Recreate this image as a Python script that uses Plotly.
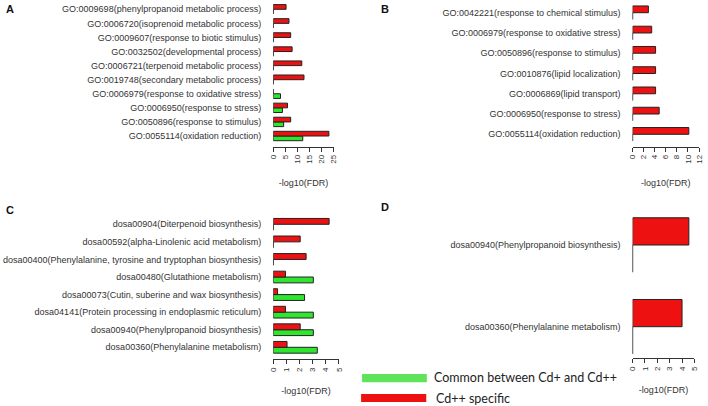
import plotly.graph_objects as go

W, H = 708, 406

# ---------------- data ----------------
a_terms = [
    "GO:0009698(phenylpropanoid metabolic process)",
    "GO:0006720(isoprenoid metabolic process)",
    "GO:0009607(response to biotic stimulus)",
    "GO:0032502(developmental process)",
    "GO:0006721(terpenoid metabolic process)",
    "GO:0019748(secondary metabolic process)",
    "GO:0006979(response to oxidative stress)",
    "GO:0006950(response to stress)",
    "GO:0050896(response to stimulus)",
    "GO:0055114(oxidation reduction)",
]
a_specific = [5.3, 6.5, 7.2, 7.8, 11.8, 12.7, 0, 5.9, 7.2, 23.0]
a_common = [0, 0, 0, 0, 0, 0, 3.0, 3.8, 4.3, 12.2]

b_terms = [
    "GO:0042221(response to chemical stimulus)",
    "GO:0006979(response to oxidative stress)",
    "GO:0050896(response to stimulus)",
    "GO:0010876(lipid localization)",
    "GO:0006869(lipid transport)",
    "GO:0006950(response to stress)",
    "GO:0055114(oxidation reduction)",
]
b_specific = [2.85, 3.45, 4.15, 4.15, 4.15, 4.8, 10.15]
b_common = [0, 0, 0, 0, 0, 0, 0]

c_terms = [
    "dosa00904(Diterpenoid biosynthesis)",
    "dosa00592(alpha-Linolenic acid metabolism)",
    "dosa00400(Phenylalanine, tyrosine and tryptophan biosynthesis)",
    "dosa00480(Glutathione metabolism)",
    "dosa00073(Cutin, suberine and wax biosynthesis)",
    "dosa04141(Protein processing in endoplasmic reticulum)",
    "dosa00940(Phenylpropanoid biosynthesis)",
    "dosa00360(Phenylalanine metabolism)",
]
c_specific = [4.25, 2.05, 2.5, 0.93, 0.33, 0.93, 2.05, 1.05]
c_common = [0, 0, 0, 3.05, 2.38, 3.05, 3.05, 3.35]

d_terms = [
    "dosa00940(Phenylpropanoid biosynthesis)",
    "dosa00360(Phenylalanine metabolism)",
]
d_specific = [4.55, 4.0]
d_common = [0, 0]

x_title = "-log10(FDR)"
legend_common = "Common between Cd+ and Cd++"
legend_specific = "Cd++ specific"

RED = "#EE1111"
GREEN = "#2EE62E"
LEG_GREEN = "#5EE35A"
OUTLINE = "#222222"

# ---------------- layout geometry (pixels) ----------------
# name, terms, specific, common, x0px, x1px, xmax, dtick, first-center px, last-center px, axis px
panels = [
    ("A", a_terms, a_specific, a_common, 272.7, 334.0, 25, 5, 9.3, 136.0, 146.7),
    ("B", b_terms, b_specific, b_common, 636.7, 704.0, 12, 2, 12.7, 134.3, 146.7),
    ("C", c_terms, c_specific, c_common, 272.7, 339.3, 5, 1, 224.3, 347.3, 359.3),
    ("D", d_terms, d_specific, d_common, 636.7, 699.3, 5, 1, 245.0, 326.7, 358.3),
]

fig = go.Figure()
layout = {}
TOP_EXT = 0.6

for i, (name, terms, spec, comm, x0, x1, xmax, dt, c_first, c_last, ax_px) in enumerate(panels):
    idx = "" if i == 0 else str(i + 1)
    xa, ya = "x" + idx, "y" + idx
    n = len(terms)
    spacing = (c_last - c_first) / (n - 1) if n > 1 else 80
    bottom_ext = (ax_px - c_last) / spacing
    top_px = c_first - TOP_EXT * spacing
    terms_r = terms[::-1]
    fig.add_trace(go.Bar(
        y=terms_r, x=comm[::-1], orientation="h", xaxis=xa, yaxis=ya,
        marker=dict(color=GREEN, line=dict(color=OUTLINE, width=1)),
        showlegend=False, hoverinfo="x+y"))
    fig.add_trace(go.Bar(
        y=terms_r, x=spec[::-1], orientation="h", xaxis=xa, yaxis=ya,
        marker=dict(color=RED, line=dict(color=OUTLINE, width=1)),
        showlegend=False, hoverinfo="x+y"))

    layout["xaxis" + idx] = dict(
        domain=[x0 / W, x1 / W], range=[0, xmax], dtick=dt, tick0=0,
        anchor=ya, showline=True, linecolor="#333", linewidth=1,
        ticks="outside", ticklen=4, tickcolor="#333", tickwidth=1,
        tickangle=-90, tickfont=dict(size=8, color="#333", family="Liberation Sans, Arial"),
        showgrid=False, zeroline=False,
        title=dict(text=x_title, standoff=16,
                   font=dict(size=9, color="#333", family="Liberation Sans, Arial")),
    )
    layout["yaxis" + idx] = dict(
        domain=[1 - ax_px / H, 1 - top_px / H],
        range=[-bottom_ext, (n - 1) + TOP_EXT],
        anchor=xa, showline=False, showgrid=False, zeroline=False,
        ticks="", ticklabelstandoff=11, type="category",
        tickfont=dict(size=9, color="#333", family="Liberation Sans, Arial"),
    )

annotations = []
letters = [("A", 0, 9), ("B", 380, 9), ("C", 0, 210), ("D", 380, 207)]
for t, px, py in letters:
    annotations.append(dict(
        text="<b>%s</b>" % t, x=px / W, y=1 - py / H, xref="paper", yref="paper",
        xanchor="left", yanchor="middle", showarrow=False,
        font=dict(size=11, color="#111", family="Liberation Sans, Arial")))

annotations.append(dict(text=legend_common, x=434 / W, y=1 - 377.7 / H, xref="paper", yref="paper",
                        xanchor="left", yanchor="middle", showarrow=False,
                        font=dict(size=12.5, color="#222", family="Lato")))
annotations.append(dict(text=legend_specific, x=436 / W, y=1 - 398 / H, xref="paper", yref="paper",
                        xanchor="left", yanchor="middle", showarrow=False,
                        font=dict(size=12.5, color="#222", family="Lato")))

shapes = [
    dict(type="rect", xref="paper", yref="paper", x0=362.7 / W, x1=428.3 / W,
         y0=1 - 382.3 / H, y1=1 - 374 / H, fillcolor=LEG_GREEN, line=dict(width=0)),
    dict(type="rect", xref="paper", yref="paper", x0=361.7 / W, x1=427.7 / W,
         y0=1 - 402 / H, y1=1 - 394 / H, fillcolor=RED, line=dict(width=0)),
]

fig.update_layout(
    width=W, height=H, margin=dict(l=0, r=0, t=0, b=0),
    paper_bgcolor="white", plot_bgcolor="white",
    barmode="group", bargap=1 / 3, bargroupgap=0,
    showlegend=False, annotations=annotations, shapes=shapes,
    font=dict(family="Liberation Sans, Arial", color="#333"),
    **layout,
)

fig.write_html("out.html", config={"displayModeBar": False},
               post_script="document.body.style.margin='0px';document.body.style.overflow='hidden';")
